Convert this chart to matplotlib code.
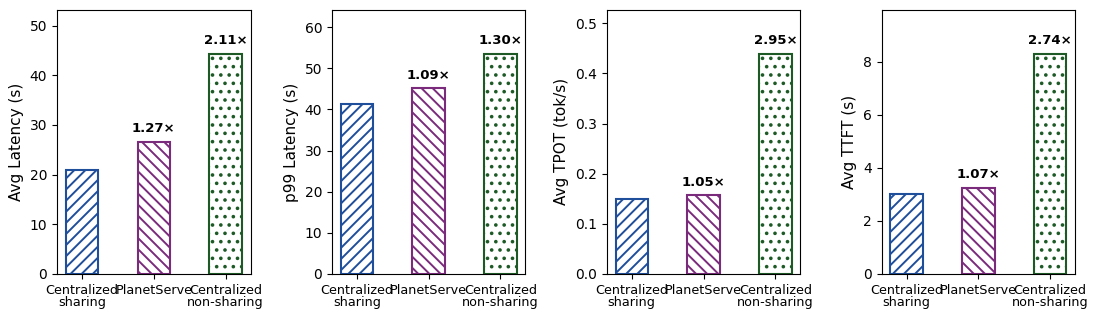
import numpy as np
import matplotlib.pyplot as plt
import matplotlib.colors as mcolors

systems = ["Centralized\nsharing", "PlanetServe", "Centralized\nnon-sharing"]
ylabels = ["Avg Latency (s)", "p99 Latency (s)", "Avg TPOT (tok/s)", "Avg TTFT (s)"]

avg_latency = [20.9, 26.6, 44.3]
p99_latency = [41.2, 45.1, 53.5]
avg_tpot = [0.149, 0.157, 0.439]
avg_ttft = [3.03, 3.24, 8.30]
values = [avg_latency, p99_latency, avg_tpot, avg_ttft]

ratios = [[None, "1.27×", "2.11×"],
          [None, "1.09×", "1.30×"],
          [None, "1.05×", "2.95×"],
          [None, "1.07×", "2.74×"]]

colors = ["#1f4e9a", "#7a2b7c", "#1d5a26"]
hatches = ["///", "\\\\\\", ".."]

plt.rcParams['hatch.linewidth'] = 1.4

fig, axes = plt.subplots(1, 4, figsize=(10.96, 3.21), dpi=100)
plt.subplots_adjust(left=0.052, right=0.981, bottom=0.147, top=0.969, wspace=0.42)

x = np.arange(len(systems))
for ax, vals, lab, rat in zip(axes, values, ylabels, ratios):
    for i, v in enumerate(vals):
        b = ax.bar(x[i], v, width=0.45, color="white", edgecolor=colors[i],
                   hatch=hatches[i], linewidth=1.5)
        b[0]._hatch_color = mcolors.to_rgba(colors[i])
        if rat[i]:
            ax.text(x[i], v + max(vals) * 0.03, rat[i], ha="center", va="bottom",
                    fontsize=9.5, fontweight="bold")
    ax.set_ylim(0, max(vals) * 1.2)
    ax.set_xticks(x)
    ax.set_xticklabels(systems, fontsize=9.2, linespacing=0.95)
    ax.set_ylabel(lab, fontsize=11)
    ax.tick_params(axis="y", labelsize=10)

fig.savefig("out.png", dpi=100)
